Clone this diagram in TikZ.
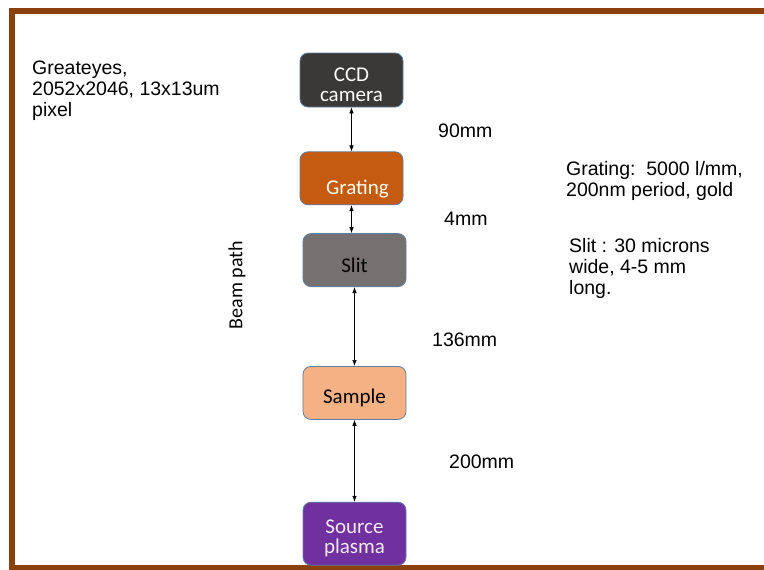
\documentclass[tikz,border=0pt]{standalone}
\usepackage{fontspec}
\setmainfont{Liberation Sans}
\newfontfamily\calibri{Carlito}
\usepackage{xcolor}
\usetikzlibrary{arrows.meta,positioning}

\definecolor{framebrown}{RGB}{139,65,14}
\definecolor{ccdgray}{RGB}{59,56,56}
\definecolor{gratingorange}{RGB}{197,90,17}
\definecolor{slitgray}{RGB}{118,113,113}
\definecolor{samplepeach}{RGB}{244,177,131}
\definecolor{sourcepurple}{RGB}{112,48,160}
\definecolor{boxedge}{RGB}{96,125,160}

\begin{document}
\begin{tikzpicture}[x=1pt, y=-1pt, node distance=44pt,
  part/.style={rectangle, rounded corners=8pt, draw=boxedge, line width=0.8pt,
    minimum width=103pt, minimum height=53pt},
  parttext/.style={align=center, yshift=-5pt,
    font=\calibri\fontsize{21}{20}\selectfont},
  beam/.style={{Latex[length=6pt,width=4.5pt]}-{Latex[length=6pt,width=4.5pt]}, line width=0.6pt},
  dist/.style={anchor=base west, inner sep=0pt, font=\fontsize{19.5}{21}\selectfont},
  note/.style={anchor=north west, inner sep=0pt, align=left, font=\fontsize{19.5}{21}\selectfont}]
  \useasboundingbox (0,0) rectangle (764,570);
  % frame
  \draw[framebrown, line width=6pt] (12,11) rectangle (775,568);

  % beam line parts
  \node[part, fill=ccdgray, minimum height=54pt,
    label={[parttext, text=white]center:{CCD\\camera}}] (ccd) at (351.5,80) {};
  \node[part, fill=gratingorange,
    label={[parttext, text=white!95!yellow, xshift=6pt, yshift=-6pt]center:Grating}] (grating) [below=44pt of ccd] {};
  \node[part, fill=slitgray,
    label={[parttext]center:Slit}] (slit) [below=28pt of grating, xshift=3pt] {};
  \node[part, fill=samplepeach,
    label={[parttext]center:Sample}] (sample) [below=79pt of slit] {};
  \node[part, fill=sourcepurple, minimum height=63pt,
    label={[parttext, text=white!92!violet]center:{Source\\plasma}}] (source) [below=82pt of sample] {};

  \draw[beam] (ccd.south) -- (grating.north);
  \draw[beam] (grating.south) -- (grating.south |- slit.north);
  \draw[beam] (slit.south) -- (sample.north);
  \draw[beam] (sample.south) -- (source.north);

  % distances
  \node[dist] (d90) at (438,137) {90mm};
  \node[dist] (d4) at (444,225) {4mm};
  \node[dist] (d136) at (432,346) {136mm};
  \node[dist] (d200) at (449,468) {200mm};

  % notes
  \node[note] (camnote) at (32,61) {Greateyes,\\2052x2046, 13x13um\\pixel};
  \node[note] (gratnote) at (566,161) {Grating:\ \ 5000 l/mm,\\200nm period, gold};
  \node[note] (slitnote) at (569,238) {Slit : 30 microns\\wide, 4-5 mm\\long.};
  \node[rotate=90, font=\calibri\fontsize{20}{21}\selectfont] (beampath) at (237,285) {Beam path};
\end{tikzpicture}
\end{document}
